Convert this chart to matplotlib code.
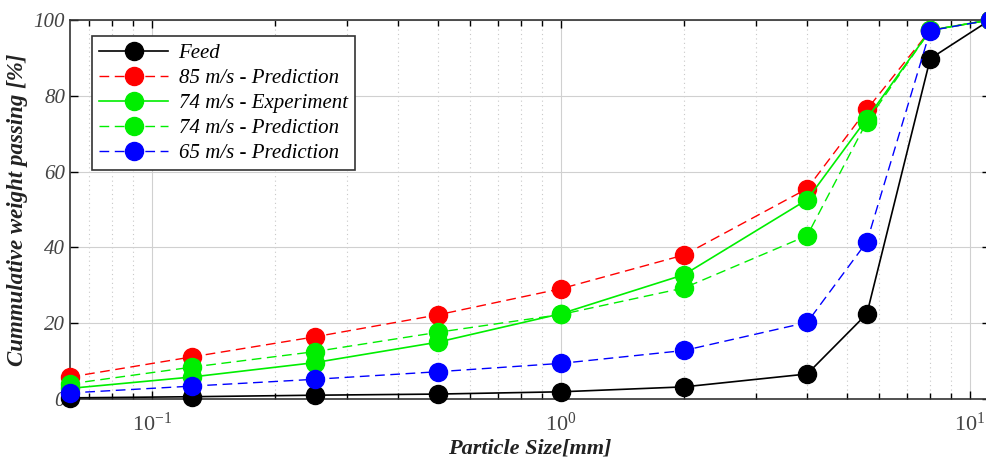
import matplotlib.pyplot as plt
from matplotlib.ticker import LogLocator, NullFormatter

plt.rcParams['font.family'] = ['Liberation Serif', 'DejaVu Serif']
plt.rcParams['mathtext.fontset'] = 'stix'
plt.rcParams['mathtext.default'] = 'it'

# Sieve sizes [mm]
sizes = [0.063, 0.125, 0.25, 0.5, 1.0, 2.0, 4.0, 5.6, 8.0, 11.2]

# Cumulative weight passing [%]
feed = [0.3, 0.6, 1.0, 1.3, 1.9, 3.2, 6.6, 22.5, 89.8, 100]
pred_85 = [5.8, 11.1, 16.4, 22.2, 29.1, 38.0, 55.5, 76.4, 97.3, 100]
exp_74 = [2.8, 5.8, 9.6, 15.0, 22.5, 32.8, 52.6, 74.0, 97.3, 100]
pred_74 = [4.0, 8.4, 12.5, 17.6, 22.3, 29.3, 43.1, 73.2, 97.3, 100]
pred_65 = [1.6, 3.4, 5.2, 7.2, 9.4, 12.8, 20.2, 41.5, 97.2, 100]

fig = plt.figure(figsize=(9.87, 4.59), dpi=100)
ax = fig.add_axes([70 / 987, 60 / 459, 920 / 987, 379 / 459])

ms = 13
dash = (0, (7, 4))
ax.plot(sizes, feed, '-', color='black', marker='o', ms=ms, lw=1.2,
        label='Feed', clip_on=False, zorder=3)
ax.plot(sizes, pred_85, ls=dash, color='#ff0000', marker='o', ms=ms, lw=1.0,
        label='85 m/s - Prediction', clip_on=False, zorder=3)
ax.plot(sizes, exp_74, '-', color='#00ee00', marker='o', ms=ms, lw=1.2,
        label='74 m/s - Experiment', clip_on=False, zorder=3)
ax.plot(sizes, pred_74, ls=dash, color='#00ee00', marker='o', ms=ms, lw=1.0,
        label='74 m/s - Prediction', clip_on=False, zorder=3)
ax.plot(sizes, pred_65, ls=dash, color='#0000ff', marker='o', ms=ms, lw=1.0,
        label='65 m/s - Prediction', clip_on=False, zorder=3)

ax.set_xscale('log')
ax.set_xlim(0.063, 11.2)
ax.set_ylim(0, 100)
ax.set_yticks([0, 20, 40, 60, 80, 100])
ax.xaxis.set_minor_locator(LogLocator(base=10, subs=range(2, 10), numticks=20))
ax.xaxis.set_minor_formatter(NullFormatter())

ax.grid(True, which='major', color='#d0d0d0', lw=0.8)
ax.grid(True, which='minor', axis='x', color='#c8c8c8', lw=0.8, ls=(0, (1, 3)))
ax.set_axisbelow(True)

ax.tick_params(which='both', direction='in', top=True, right=True,
               labelsize=15, labelcolor='#444444')
ax.tick_params(which='major', length=6, width=1)
ax.tick_params(which='minor', length=4, width=1)
ax.tick_params(axis='x', which='major', pad=10, labelsize=16)
for lab in ax.get_yticklabels():
    lab.set_fontstyle('italic')
for sp in ax.spines.values():
    sp.set_color('#333333')
    sp.set_linewidth(1.2)

ax.set_xlabel('Particle Size[mm]', fontsize=16, fontweight='bold',
              fontstyle='italic', color='#222222', labelpad=2)
ax.set_ylabel('Cummulative weight passing [%]', fontsize=16.5, fontweight='bold',
              fontstyle='italic', color='#222222', labelpad=4)

leg = ax.legend(loc='upper left', bbox_to_anchor=(0.024, 0.958), borderaxespad=0,
                prop={'style': 'italic', 'size': 15}, handlelength=3.3,
                fancybox=False, framealpha=1, edgecolor='#333333',
                borderpad=0.35, labelspacing=0.26, handletextpad=0.5)
leg.get_frame().set_linewidth(1.2)

fig.savefig('out.png', dpi=100)
